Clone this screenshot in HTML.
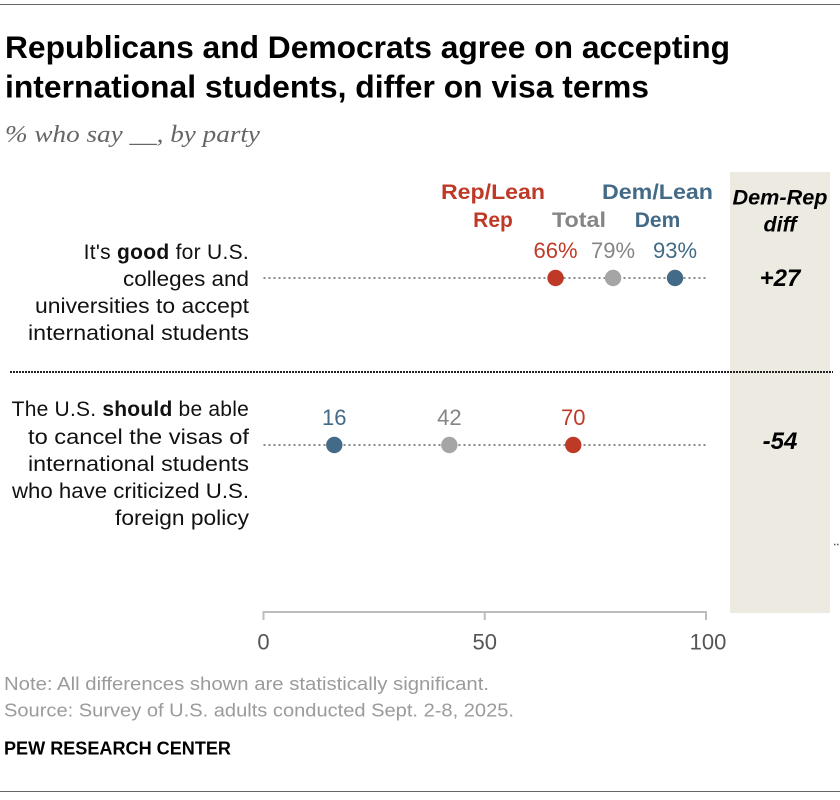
<!DOCTYPE html>
<html lang="en">
<head>
<meta charset="utf-8">
<title>Republicans and Democrats agree on accepting international students</title>
<style>
html,body{margin:0;padding:0;background:#fff;}
svg{display:block;font-family:"Liberation Sans",sans-serif;}
.row-label{font-size:21px;fill:#111;text-anchor:end;}
.row-label tspan.b{font-weight:700;}
.head{font-size:21px;font-weight:700;text-anchor:middle;}
.val{font-size:22px;text-anchor:middle;}
.diff{font-size:21.5px;font-weight:700;font-style:italic;text-anchor:middle;fill:#000;}
.diff-val{font-size:24px;}
.note{font-size:18px;fill:#9b9b9b;}
</style>
</head>
<body>
<svg id="chart" width="840" height="800" viewBox="0 0 840 800" xmlns="http://www.w3.org/2000/svg">
<rect x="0" y="0" width="840" height="800" fill="#fff"/>
<line x1="0" x2="840" y1="4.5" y2="4.5" stroke="#666" stroke-width="1"/>
<text x="5" y="58" font-size="31.5" font-weight="700" fill="#000" textLength="725" lengthAdjust="spacingAndGlyphs">Republicans and Democrats agree on accepting</text>
<text x="5" y="97.6" font-size="31.5" font-weight="700" fill="#000" textLength="644" lengthAdjust="spacingAndGlyphs">international students, differ on visa terms</text>
<text x="5" y="142" font-size="24" font-style="italic" fill="#666" style="font-family:'Liberation Serif',serif" textLength="255" lengthAdjust="spacingAndGlyphs">% who say __, by party</text>

<rect x="730" y="172" width="100" height="441" fill="#edeae2"/>
<text class="diff" x="780" y="204.5" textLength="95" lengthAdjust="spacingAndGlyphs">Dem-Rep</text>
<text class="diff" x="780" y="231.5">diff</text>

<text class="head" x="493" y="199" fill="#bf3927" textLength="104" lengthAdjust="spacingAndGlyphs">Rep/Lean</text>
<text class="head" x="493" y="227" fill="#bf3927">Rep</text>
<text class="head" x="579" y="227" fill="#858585" textLength="54" lengthAdjust="spacingAndGlyphs">Total</text>
<text class="head" x="657.5" y="199" fill="#436a87" textLength="111" lengthAdjust="spacingAndGlyphs">Dem/Lean</text>
<text class="head" x="657.5" y="227" fill="#436a87">Dem</text>

<text class="row-label" x="249" y="259" style="letter-spacing:.28px">It's <tspan class="b">good</tspan> for U.S.</text>
<text class="row-label" x="249" y="286" textLength="126" lengthAdjust="spacingAndGlyphs">colleges and</text>
<text class="row-label" x="249" y="313" textLength="214" lengthAdjust="spacingAndGlyphs">universities to accept</text>
<text class="row-label" x="249" y="340" textLength="221" lengthAdjust="spacingAndGlyphs">international students</text>

<line x1="10" x2="833" y1="372" y2="372" stroke="#222" stroke-width="2" stroke-dasharray="2 1"/>

<text class="row-label" x="249" y="416" style="letter-spacing:.22px">The U.S. <tspan class="b">should</tspan> be able</text>
<text class="row-label" x="249" y="444" textLength="221" lengthAdjust="spacingAndGlyphs">to cancel the visas of</text>
<text class="row-label" x="249" y="471" textLength="221" lengthAdjust="spacingAndGlyphs">international students</text>
<text class="row-label" x="249" y="498" textLength="237" lengthAdjust="spacingAndGlyphs">who have criticized U.S.</text>
<text class="row-label" x="249" y="525" textLength="134" lengthAdjust="spacingAndGlyphs">foreign policy</text>

<line x1="834" x2="839" y1="544.5" y2="544.5" stroke="#555" stroke-width="1.5" stroke-dasharray="1.5 1.5"/>

<g id="marks"></g>
<g id="axis"></g>

<text class="note" x="4" y="690" textLength="485" lengthAdjust="spacingAndGlyphs">Note: All differences shown are statistically significant.</text>
<text class="note" x="4" y="716.5" textLength="510" lengthAdjust="spacingAndGlyphs">Source: Survey of U.S. adults conducted Sept. 2-8, 2025.</text>
<text x="4" y="754.4" font-size="18.3" font-weight="700" fill="#000" textLength="227" lengthAdjust="spacingAndGlyphs">PEW RESEARCH CENTER</text>
<line x1="0" x2="840" y1="791.5" y2="791.5" stroke="#666" stroke-width="1"/>
</svg>
<script>
const rowNames = ['good-for-colleges', 'cancel-visas'];
const repValues = [66, 70];
const totalValues = [79, 42];
const demValues = [93, 16];
const repLabels = ['66%', '70'];
const totalLabels = ['79%', '42'];
const demLabels = ['93%', '16'];
const diffLabels = ['+27', '-54'];
const axisTicks = [0, 50, 100];

const NS = 'http://www.w3.org/2000/svg';
const marks = document.getElementById('marks');
const axis = document.getElementById('axis');
function xScale(v) { return 263.5 + v * 4.425; }
function yRow(i) { return i === 0 ? 278 : 445; }
function diffY(i) { return i === 0 ? 286 : 449; }
function make(tag, attrs, parent, text) {
  const el = document.createElementNS(NS, tag);
  Object.keys(attrs).forEach(function (k) { el.setAttribute(k, attrs[k]); });
  if (text !== undefined) el.textContent = text;
  parent.appendChild(el);
  return el;
}
const seriesList = [
  { key: 'total', values: totalValues, labels: totalLabels, dot: '#a5a5a5', text: '#858585' },
  { key: 'rep', values: repValues, labels: repLabels, dot: '#bf3927', text: '#bf3927' },
  { key: 'dem', values: demValues, labels: demLabels, dot: '#436a87', text: '#436a87' }
];
rowNames.forEach(function (row, i) {
  const y = yRow(i);
  const guide = make('line', { x1: xScale(0), x2: xScale(100), y1: y, y2: y, stroke: '#8a8a8a', 'stroke-width': 2, 'stroke-dasharray': '2 3' }, marks);
  
  
  seriesList.forEach(function (s) {
    const dot = make('circle', { cx: xScale(s.values[i]), cy: y, r: 8.2, fill: s.dot }, marks);
    
    
    const lab = make('text', { class: 'val', x: xScale(s.values[i]), y: y - 20, fill: s.text }, marks, s.labels[i]);
    
    
  });
  const diff = make('text', { class: 'diff diff-val', x: 780, y: diffY(i) }, marks, diffLabels[i]);
  
  
});
const domain = make('line', { x1: xScale(axisTicks[0]) - 1, x2: xScale(axisTicks[axisTicks.length - 1]) + 1, y1: 612, y2: 612, stroke: '#bdbdbd', 'stroke-width': 2 }, axis);


axisTicks.forEach(function (t) {
  const tick = make('line', { x1: xScale(t), x2: xScale(t), y1: 612, y2: 620, stroke: '#bdbdbd', 'stroke-width': 2 }, axis);
  
  
  const lab = make('text', { class: 'val', x: xScale(t) + (t === 100 ? 2 : 0), y: 649.5, fill: '#555' }, axis, String(t));
  
  
});
</script>
</body>
</html>
